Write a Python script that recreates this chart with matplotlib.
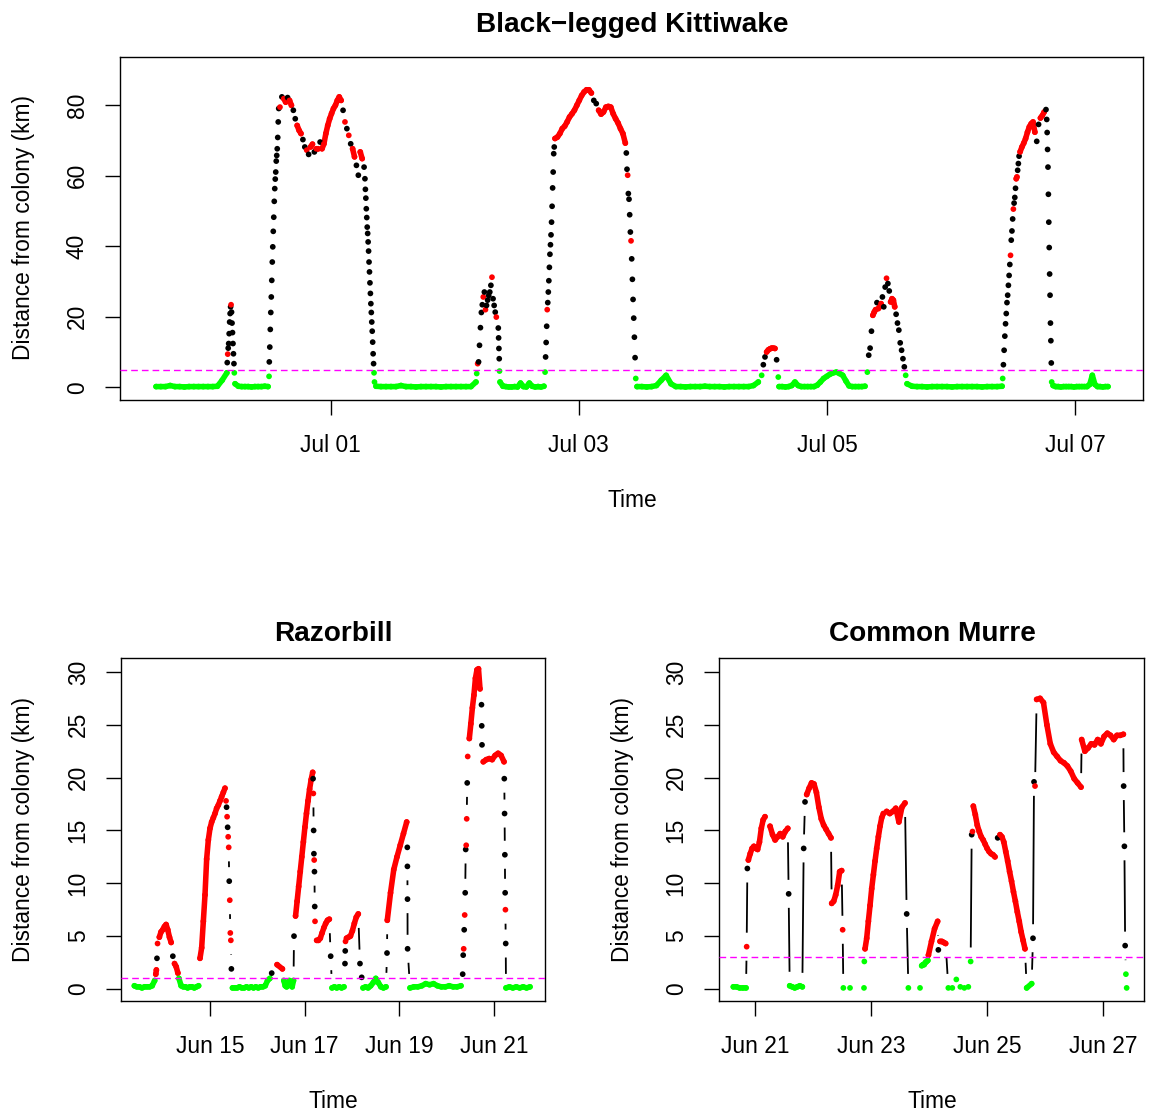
import numpy as np
import matplotlib
matplotlib.use('Agg')
import matplotlib.pyplot as plt
from matplotlib.collections import LineCollection

plt.rcParams['font.family'] = ['Liberation Sans', 'DejaVu Sans']

# state of each fix: g = at colony, r = foraging, k = commuting
# segments: start day, end day, distances (km), states, densely sampled?

# Black-legged Kittiwake, days after Jul 01 00:00
kw_t0 = [-1.408, -0.834, -0.777, -0.771, -0.497, -0.495, -0.409, 0.276, 0.365, 1.177,
         1.230, 1.351, 1.365, 1.728, 1.808, 2.383, 2.469, 3.474, 3.614, 4.326,
         4.646, 5.417, 5.557, 5.772, 5.823]
kw_t1 = [-0.837, -0.780, -0.777, -0.505, -0.497, -0.419, 0.269, 0.353, 1.171, 1.222,
         1.335, 1.361, 1.719, 1.802, 2.375, 2.459, 3.447, 3.608, 4.307, 4.635,
         5.412, 5.549, 5.766, 5.812, 6.266]
kw_km = [
    [0.2, 0.2, 0.2, 0.5, 0.2, 0.2, 0.1, 0.2, 0.2, 0.2, 0.2, 0.2, 0.2, 0.3, 2.0, 4.1],
    [7.0, 9.4, 11.1, 12.4, 15.2, 18.5, 20.9, 22.8, 23.4, 21.3, 18.2, 15.5, 12.4, 9.5, 6.7],
    [4.1],
    [1.0, 0.3, 0.2, 0.2, 0.2, 0.1, 0.2, 0.2, 0.2, 0.3, 0.2],
    [3.1],
    [7.2, 11.4, 16.4, 21.2, 25.6, 30.3, 35.5, 39.8, 44.2, 48.2, 52.7, 56.3, 59.0, 61.0,
     64.1, 65.7, 67.6, 70.8, 75.2, 79.0],
    [79.4, 82.3, 81.8, 80.8, 82.1, 81.3, 79.9, 78.5, 76.1, 74.2, 72.8, 71.9, 70.2, 68.1,
     67.2, 66.0, 68.1, 68.9, 66.7, 67.6, 67.6, 69.5, 67.6, 69.0, 71.9, 74.2, 76.1, 77.6,
     79.0, 79.9, 81.3, 82.3, 81.3, 78.5, 75.2, 73.3, 71.4, 69.0, 67.6, 65.3, 62.9, 60.1,
     66.7, 64.8, 62.4],
    [59.1, 56.1, 53.6, 50.6, 48.1, 45.4, 43.6, 41.2, 38.6, 35.5, 32.7, 29.6, 26.6, 23.7,
     21.2, 18.5, 15.9, 12.8, 9.5, 6.7, 4.1, 1.5],
    [0.3, 0.2, 0.2, 0.2, 0.2, 0.5, 0.2, 0.2, 0.1, 0.2, 0.2, 0.2, 0.2, 0.1, 0.2, 0.2, 0.2,
     0.2, 0.2, 0.2, 1.5],
    [3.9, 6.7, 7.2, 11.9, 16.9, 21.2, 23.4],
    [25.6, 27.0, 22.0, 23.2, 24.7, 26.0, 27.0, 28.9, 31.2, 25.1, 23.2, 21.3, 19.9],
    [16.8, 14.0, 11.0, 8.1, 4.6],
    [1.5, 0.3, 0.2, 0.1, 0.1, 0.2, 0.1, 1.2, 0.2, 0.1, 1.2, 0.3, 0.1, 0.2, 0.1, 0.3],
    [4.3, 8.6, 12.7, 17.3, 22.0, 24.0, 27.0, 30.2, 34.0, 37.7, 40.4, 43.2, 46.8, 51.3,
     56.5, 61.0, 66.2, 68.1],
    [70.5, 70.9, 71.9, 73.3, 74.0, 75.2, 76.6, 77.5, 78.5, 79.9, 81.3, 82.7, 83.7, 84.3,
     84.3, 83.4, 81.3, 80.4, 78.5, 77.4, 78.0, 79.4, 79.6, 79.4, 77.5, 76.1, 74.9, 73.3,
     71.9, 69.2],
    [66.4, 61.8, 60.1, 54.9, 53.3, 48.9, 44.0, 41.5, 36.4, 30.6, 24.9, 19.6, 14.2, 8.4, 2.5],
    [0.2, 0.2, 0.1, 0.2, 0.5, 2.0, 3.4, 1.0, 0.2, 0.2, 0.1, 0.2, 0.2, 0.2, 0.3, 0.2, 0.2,
     0.2, 0.1, 0.2, 0.2, 0.2, 0.2, 0.2, 0.5, 1.5],
    [3.4, 6.4, 8.6, 10.0, 10.6, 10.9, 11.1, 11.1, 11.0, 7.8, 2.9],
    [0.2, 0.2, 0.1, 0.2, 0.5, 1.5, 0.5, 0.2, 0.2, 0.2, 0.2, 0.2, 0.6, 1.5, 2.5, 3.1, 3.7,
     4.1, 4.3, 3.9, 3.4, 1.8, 0.4, 0.2, 0.2, 0.2, 0.2, 0.3],
    [4.3, 9.1, 11.1, 15.9, 20.4, 21.3, 22.0, 24.0, 22.3, 22.8, 23.7, 25.6, 22.8, 28.4,
     30.9, 29.4, 27.3, 24.2, 25.1, 24.7, 22.8, 20.7, 18.2, 16.2, 12.6, 10.5, 8.1, 5.8, 3.4],
    [1.0, 0.3, 0.2, 0.2, 0.1, 0.2, 0.2, 0.2, 0.2, 0.1, 0.2, 0.2, 0.2, 0.2, 0.2, 0.1, 0.2,
     0.2, 0.2, 0.3],
    [2.5, 6.4, 10.5, 14.5, 18.0, 20.9, 24.0, 26.1, 28.9, 31.7, 34.8, 37.4, 41.7, 44.3,
     47.7, 50.5, 52.2, 53.8, 56.4, 59.1, 59.6, 61.5, 63.4, 65.5],
    [66.7, 68.1, 69.2, 70.5, 72.3, 73.8, 74.7, 75.2, 72.3, 69.7, 74.5, 76.3, 77.0, 78.0, 78.7],
    [75.9, 72.2, 67.4, 62.4, 54.7, 46.8, 39.6, 32.1, 26.1, 18.2, 13.2, 6.9, 1.5],
    [0.5, 0.2, 0.2, 0.1, 0.2, 0.2, 0.2, 0.2, 0.1, 0.2, 0.2, 0.2, 0.2, 0.2, 0.8, 3.4, 0.8,
     0.2, 0.2, 0.1, 0.2, 0.2],
]
kw_st = ['g', 'krkkkkkkrkkkkkk', 'g', 'g', 'g', 'k',
         'rkrrkrrkkrrrkkrkrrkrrkrrrrrrrrrrrkrkrkrrkkrrk',
         'kkkkkkkkkkkkkkkkkkkkgg', 'g', 'grkkkkk', 'rkrkkkkkrkkkr', 'kkkkg', 'g',
         'gkkkrkkkkkkkkkkkkk', 'rrrrrrrrrrrrrrrrkkrrrrrrrrrrrr', 'kkrkkkkrkkkkkkg', 'g',
         'gkkrrrrrrkg', 'g', 'gkkkrrrkrrrkkkrkkrrrrkkkkkkkg', 'g',
         'gkkkkkkkkkkrkkkrkkkrrkkk', 'rrrrrrrrrkkrrrk', 'kkkkkkkkkkkkg', 'g']
kw_dense = [1, 0, 0, 1, 0, 0, 1, 0, 1, 0, 0, 0, 1, 0, 1, 0, 1, 1, 1, 1, 1, 1, 1, 0, 1]
kw_ticks = ['Jul 01', 'Jul 03', 'Jul 05', 'Jul 07']
kw_limit = 5

# Razorbill, days after Jun 15 00:00
rb_t0 = [-1.598, -1.145, -1.070, -0.656, -0.211, 0.339, 0.475, 1.304, 1.560, 1.775,
         2.178, 2.254, 2.550, 2.578, 2.852, 2.884, 3.169, 3.233, 3.740, 3.746,
         4.169, 4.226, 5.339, 5.479, 5.736, 5.774, 6.218, 6.254]
rb_t1 = [-1.168, -1.108, -0.678, -0.240, 0.317, 0.452, 1.266, 1.530, 1.765, 2.170,
         2.219, 2.521, 2.550, 2.831, 2.863, 3.133, 3.205, 3.719, 3.740, 4.156,
         4.175, 5.303, 5.445, 5.705, 5.747, 6.212, 6.248, 6.761]
rb_km = [
    [0.3, 0.2, 0.2, 0.1, 0.2, 0.2, 0.2, 0.3, 0.8],
    [1.4, 1.8, 2.9, 4.3],
    [4.9, 5.4, 5.6, 5.9, 6.1, 5.6, 4.9, 4.4, 3.1, 2.4, 2.1, 1.5],
    [1.0, 0.3, 0.2, 0.2, 0.1, 0.2, 0.2, 0.1, 0.2, 0.3],
    [2.9, 3.9, 6.4, 8.9, 12.3, 14.1, 15.2, 15.8, 16.2, 16.6, 17.1, 17.4, 17.8, 18.2,
     18.6, 19.0],
    [17.8, 17.2, 16.3, 15.3, 14.4, 13.4, 10.2, 8.4, 5.3, 4.6, 1.9],
    [0.1, 0.1, 0.1, 0.2, 0.1, 0.1, 0.2, 0.1, 0.2, 0.1, 0.2, 0.1, 0.2, 0.2, 0.3, 0.8, 1.0],
    [1.5, 2.3, 1.9],
    [0.8, 0.3, 0.2, 0.3, 0.8, 0.6, 0.2, 0.8],
    [5.0, 6.9, 8.3, 9.7, 11.1, 12.5, 13.9, 15.3, 16.6, 17.8, 18.9, 19.8, 20.5],
    [19.9, 18.5, 15.0, 12.8, 12.2, 11.1, 7.8, 6.4],
    [4.6, 4.6, 4.8, 5.3, 5.8, 6.2, 6.5, 6.6],
    [3.1],
    [0.1, 0.2, 0.1, 0.2, 0.1, 0.2],
    [2.4, 3.6, 4.5],
    [4.8, 4.9, 5.0, 5.5, 6.2, 6.8, 7.1],
    [2.4, 1.1],
    [0.1, 0.2, 0.1, 0.3, 0.6, 1.0, 0.6, 0.2, 0.1, 0.2],
    [3.4],
    [6.5, 9.1, 11.3, 12.5, 13.6, 14.7, 15.8],
    [13.4, 11.6, 8.5, 3.8],
    [0.1, 0.2, 0.2, 0.3, 0.5, 0.4, 0.5, 0.3, 0.2, 0.2, 0.3, 0.2, 0.2, 0.3],
    [1.4, 3.2, 3.8, 5.6, 7.0, 9.1, 13.2, 13.6, 16.1, 19.5, 22.0],
    [23.7, 25.1, 26.6, 27.8, 29.4, 30.2, 30.3, 28.4],
    [26.9, 24.9, 23.1],
    [21.5, 21.7, 21.8, 21.7, 22.1, 22.3, 22.1, 21.5],
    [19.9, 16.6, 12.7, 9.1, 7.5, 4.3],
    [0.1, 0.2, 0.1, 0.2, 0.1, 0.2, 0.1, 0.2],
]
rb_st = ['g', 'rrkr', 'rrrrrrrrkrrr', 'g', 'r', 'rkrkrrkrrrk', 'g', 'krr', 'g',
         'krrrrrrrrrrrr', 'krkkrkkr', 'r', 'k', 'g', 'kkr', 'r', 'k', 'g', 'k', 'r',
         'k', 'g', 'kkrkrkkrrkr', 'r', 'k', 'r', 'kkkkrk', 'g']
rb_dense = [1, 1, 1, 1, 1, 0, 1, 1, 1, 1, 0, 1, 0, 1, 0, 1, 0, 1, 0, 1, 0, 1, 0, 1, 0, 1, 0, 1]
rb_ticks = ['Jun 15', 'Jun 17', 'Jun 19', 'Jun 21']
rb_limit = 1

# Common Murre, days after Jun 21 00:00
cm_t0 = [-0.374, -0.144, -0.115, 0.259, 0.580, 0.598, 0.839, 0.891, 1.322, 1.511,
         1.523, 1.879, 1.897, 2.270, 2.615, 2.644, 2.874, 2.990, 3.161, 3.190,
         3.333, 3.718, 3.736, 3.764, 4.184, 4.224, 4.684, 4.793, 4.856, 5.632, 6.356]
cm_t1 = [-0.155, -0.132, 0.172, 0.565, 0.580, 0.816, 0.862, 1.310, 1.494, 1.511,
         1.638, 1.885, 2.213, 2.586, 2.615, 2.845, 2.980, 3.149, 3.161, 3.287,
         3.678, 3.718, 3.750, 4.138, 4.184, 4.655, 4.770, 4.828, 5.621, 6.351, 6.408]
cm_km = [
    [0.2, 0.2, 0.1, 0.1, 0.1],
    [4.0, 11.4],
    [12.2, 12.8, 13.3, 13.5, 13.3, 13.2, 13.9, 15.2, 16.0, 16.3],
    [15.4, 14.6, 14.1, 14.4, 14.7, 14.4, 14.9, 15.2],
    [9.0],
    [0.3, 0.2, 0.1, 0.2, 0.3, 0.2],
    [13.3, 17.7],
    [18.4, 19.0, 19.5, 19.4, 18.6, 17.2, 16.1, 15.5, 15.1, 14.7, 14.3],
    [8.1, 8.3, 8.9, 9.8, 11.1, 11.2],
    [5.6],
    [0.1, 0.1],
    [0.1, 2.6],
    [3.8, 4.8, 6.4, 7.9, 9.5, 10.8, 12.1, 13.3, 14.4, 15.4, 16.2, 16.6],
    [16.8, 16.6, 16.8, 17.1, 15.8, 17.2, 17.6],
    [7.1],
    [0.1, 0.1],
    [2.2, 2.3, 2.3, 2.5, 2.6, 2.7],
    [3.2, 4.5, 5.7, 6.4],
    [3.7],
    [4.5, 4.5, 4.4, 4.3],
    [0.1, 0.1, 0.9, 0.2, 0.1, 0.2],
    [2.6],
    [14.6, 14.9],
    [17.3, 16.5, 15.5, 14.9, 14.4, 14.1, 13.7, 13.3, 13.0, 12.8, 12.7, 12.5],
    [14.3],
    [14.6, 14.4, 13.9, 13.0, 12.1, 11.1, 10.2, 9.2, 8.3, 7.3, 6.4, 5.4, 4.6, 3.8],
    [0.1, 0.5],
    [4.8, 19.6, 19.2],
    [27.4, 27.5, 27.1, 25.0, 23.2, 22.4, 22.0, 21.6, 21.4, 21.1, 20.6, 19.9, 19.5, 19.1],
    [23.6, 22.5, 22.8, 23.2, 23.1, 23.6, 23.2, 23.9, 24.2, 24.0, 23.6, 24.0, 24.0, 24.1],
    [19.2, 13.5, 4.1, 1.4, 0.1],
]
cm_st = ['g', 'rk', 'r', 'r', 'k', 'g', 'k', 'r', 'r', 'r', 'g', 'g', 'r', 'r', 'k', 'g',
         'g', 'r', 'k', 'r', 'g', 'g', 'kr', 'r', 'k', 'r', 'g', 'kkr', 'r', 'r', 'kkkgg']
cm_dense = [1, 0, 1, 1, 0, 1, 0, 1, 1, 0, 0, 0, 1, 1, 0, 0, 1, 1, 0, 1, 0, 0, 0, 1, 0, 1,
            1, 0, 1, 1, 0]
cm_ticks = ['Jun 21', 'Jun 23', 'Jun 25', 'Jun 27']
cm_limit = 3

W, H = 1153, 1113
colours = {'g': '#00FF00', 'r': '#FF0000', 'k': 'black'}
fs = 16.4

fig = plt.figure(figsize=(W / 100, H / 100), dpi=100)


def build(t0, t1, km, st):
    t, v, s, seg = [], [], '', []
    for i, (a, b, k, c) in enumerate(zip(t0, t1, km, st)):
        if len(c) == 1:
            c = c * len(k)
        assert len(c) == len(k), (i, len(c), len(k))
        t.extend(np.linspace(a, b, len(k)))
        v.extend(k)
        s += c
        seg.extend([i] * len(k))
    return np.array(t), np.array(v), s, np.array(seg)


def band(ax, t, v, c):
    ax.plot(t, v, color=colours[c], lw=4.0, solid_capstyle='round',
            solid_joinstyle='round', zorder=2)


def panel(box, t0, t1, km, st, dense, xlim, ylim, yticks, xlabels, limit):
    left, top, right, bottom = box
    ax = fig.add_axes([left / W, 1 - bottom / H, (right - left) / W, (bottom - top) / H])
    ax.set_xlim(xlim)
    ax.set_ylim(ylim)
    t, v, s, seg = build(t0, t1, km, st)

    # R type="b": black lines between fixes, cut back around each point
    gap = 14
    pix = ax.transData.transform(np.column_stack([t, v]))
    inv = ax.transData.inverted()
    segs = []
    for p, q in zip(pix[:-1], pix[1:]):
        d = q - p
        L = np.hypot(d[0], d[1])
        if L > 2 * gap:
            u = d / L
            segs.append(inv.transform(np.array([p + u * gap, q - u * gap])))
    ax.add_collection(LineCollection(segs, colors='black', linewidths=1.3, zorder=1))

    # densely sampled stretches look like a solid band of dots
    for i in range(len(km)):
        if not dense[i]:
            continue
        idx = np.where(seg == i)[0]
        run = [idx[0]]
        for j in idx[1:]:
            if s[j] == s[run[-1]]:
                run.append(j)
            else:
                if len(run) > 1 and s[run[0]] != 'k':
                    band(ax, t[run], v[run], s[run[0]])
                run = [j]
        if len(run) > 1 and s[run[0]] != 'k':
            band(ax, t[run], v[run], s[run[0]])

    ax.scatter(t, v, s=17, c=[colours[c] for c in s], linewidths=0, zorder=3)
    ax.axhline(limit, color='#FF00FF', lw=1.0, dashes=(4.8, 2.9), zorder=4)

    ax.set_xticks([0, 2, 4, 6])
    ax.set_xticklabels(xlabels)
    ax.set_yticks(yticks)
    ax.set_yticklabels([str(y) for y in yticks])
    ax.tick_params(axis='x', length=10.5, width=1.0, pad=14, labelsize=fs)
    ax.tick_params(axis='y', length=10.5, width=1.0, pad=12, labelsize=fs, labelrotation=90)
    for lab in ax.get_yticklabels():
        lab.set_verticalalignment('center')
    for sp in ax.spines.values():
        sp.set_linewidth(1.0)
    return ax


panel((120, 57, 1143, 400), kw_t0, kw_t1, kw_km, kw_st, kw_dense,
      (-1.6985, 6.548), (-3.6, 93.6), [0, 20, 40, 60, 80], kw_ticks, kw_limit)
panel((121, 658, 545, 1001), rb_t0, rb_t1, rb_km, rb_st, rb_dense,
      (-1.880, 7.078), (-1.14, 31.32), [0, 5, 10, 15, 20, 25, 30], rb_ticks, rb_limit)
panel((719, 658, 1144, 1001), cm_t0, cm_t1, cm_km, cm_st, cm_dense,
      (-0.621, 6.707), (-1.14, 31.32), [0, 5, 10, 15, 20, 25, 30], cm_ticks, cm_limit)


def ftext(x, y, s, **kw):
    fig.text(x / W, 1 - y / H, s, **kw)


ftext(632, 32, 'Black\u2212legged Kittiwake', ha='center', va='baseline',
      fontsize=20.2, fontweight='bold')
ftext(333, 641, 'Razorbill', ha='center', va='baseline', fontsize=20.2, fontweight='bold')
ftext(932, 641, 'Common Murre', ha='center', va='baseline', fontsize=20.2, fontweight='bold')
ftext(632, 507, 'Time', ha='center', va='baseline', fontsize=fs)
ftext(333, 1108, 'Time', ha='center', va='baseline', fontsize=fs)
ftext(932, 1108, 'Time', ha='center', va='baseline', fontsize=fs)
ftext(24, 228, 'Distance from colony (km)', ha='center', va='center', rotation=90, fontsize=fs)
ftext(24, 829, 'Distance from colony (km)', ha='center', va='center', rotation=90, fontsize=fs)
ftext(623, 829, 'Distance from colony (km)', ha='center', va='center', rotation=90, fontsize=fs)

fig.savefig('out.png', dpi=100)
